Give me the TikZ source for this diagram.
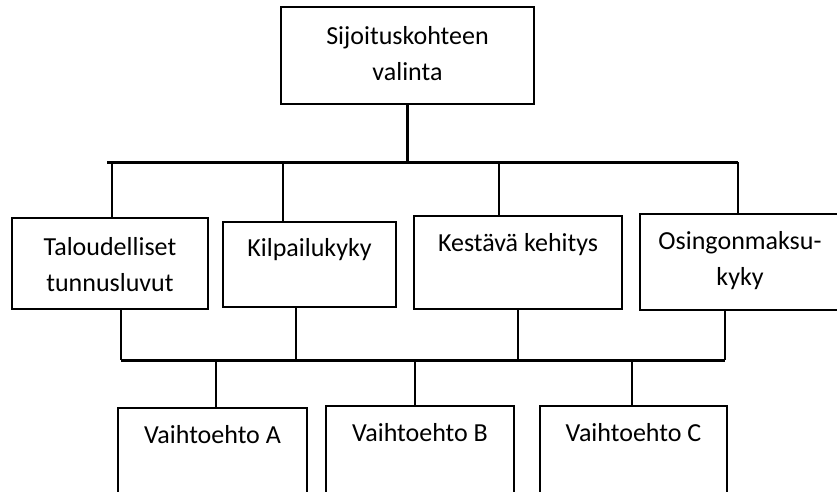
\documentclass[tikz,border=0pt]{standalone}
\usepackage{fontspec}
\setmainfont{Carlito}
\usetikzlibrary{positioning}

\begin{document}
\begin{tikzpicture}[x=1pt,y=-1pt,
  box/.style={draw,line width=1.5pt,inner sep=0pt},
  lbl/.style={font=\fontsize{26}{36}\selectfont,align=center,inner sep=0pt},
  conn/.style={line width=2.2pt},
  bus/.style={line width=3pt}]
\useasboundingbox (0,0) rectangle (837,492);
\clip (0,0) rectangle (837,492);
% goal
\node[box,minimum width=253pt,minimum height=97pt] (goal) at (407.5,55.5) {};
\node[lbl] (goalt) at ([yshift=-47pt]goal.north) {Sijoituskohteen\\valinta};
% criteria
\node[box,minimum width=196pt,minimum height=91pt] (tal) at (110,263.5) {};
\node[lbl] (talt) at ([yshift=-47pt]tal.north) {Taloudelliset\\tunnusluvut};
\node[box,minimum width=173pt,minimum height=85pt] (kil) at (309.5,264.5) {};
\node[lbl] (kilt) at ([yshift=-28pt]kil.north) {Kilpailukyky};
\node[box,minimum width=208pt,minimum height=93pt] (kes) at (518,262.5) {};
\node[lbl] (kest) at ([yshift=-29pt]kes.north) {Kestävä kehitys};
\node[box,minimum width=200pt,minimum height=96pt] (osi) at (740,262) {};
\node[lbl] (osit) at ([yshift=-47pt]osi.north) {Osingonmaksu-\\kyky};
% alternatives
\node[box,minimum width=189pt,minimum height=120pt] (va) at (212.5,468) {};
\node[lbl] (vat) at ([yshift=-27pt]va.north) {Vaihtoehto A};
\node[box,minimum width=188pt,minimum height=120pt] (vb) at (420,466) {};
\node[lbl] (vbt) at ([yshift=-27pt]vb.north) {Vaihtoehto B};
\node[box,minimum width=187pt,minimum height=120pt] (vc) at (633.5,466) {};
\node[lbl] (vct) at ([yshift=-27pt]vc.north) {Vaihtoehto C};
% upper bus
\coordinate (busAl) at (107,162);
\coordinate (busAr) at (738,162);
\draw[bus] (busAl) -- (busAr);
\draw[conn] (goal.south) -- (goal.south |- busAl);
\draw[conn] ([xshift=2pt]tal.north) -- ([xshift=2pt]tal.north |- busAl);
\draw[conn] ([xshift=-26.5pt]kil.north) -- ([xshift=-26.5pt]kil.north |- busAl);
\draw[conn] ([xshift=-19pt]kes.north) -- ([xshift=-19pt]kes.north |- busAl);
\draw[conn] ([xshift=-2pt]osi.north) -- ([xshift=-2pt]osi.north |- busAr);
% lower bus
\coordinate (busBl) at (121,360);
\coordinate (busBr) at (725,360);
\draw[bus] (busBl) -- (busBr);
\draw[conn] ([xshift=11pt]tal.south) -- ([xshift=11pt]tal.south |- busBl);
\draw[conn] ([xshift=-13.5pt]kil.south) -- ([xshift=-13.5pt]kil.south |- busBl);
\draw[conn] (kes.south) -- (kes.south |- busBl);
\draw[conn] ([xshift=-15pt]osi.south) -- ([xshift=-15pt]osi.south |- busBr);
\draw[conn] ([xshift=3.5pt]va.north) -- ([xshift=3.5pt]va.north |- busBl);
\draw[conn] ([xshift=-5pt]vb.north) -- ([xshift=-5pt]vb.north |- busBl);
\draw[conn] ([xshift=-1.5pt]vc.north) -- ([xshift=-1.5pt]vc.north |- busBl);
\end{tikzpicture}
\end{document}
